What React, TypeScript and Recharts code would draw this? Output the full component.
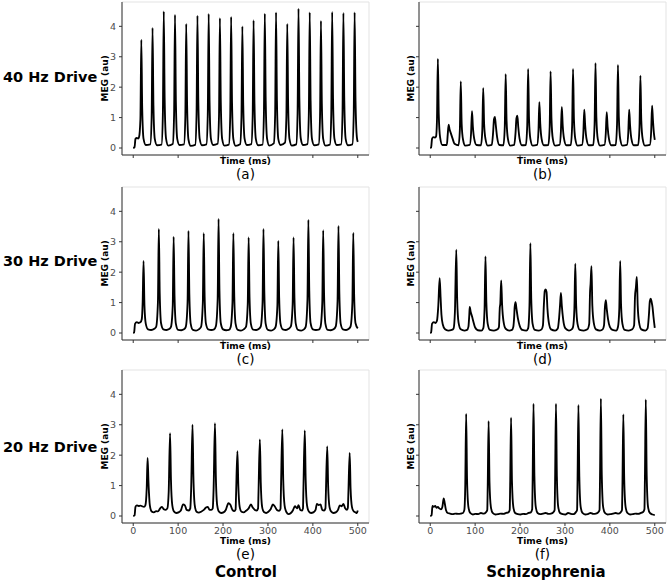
import React from 'react';
import { LineChart, Line, XAxis, YAxis, ReferenceArea } from 'recharts';

type Pt = [number, number];

const X_TICKS = [0, 100, 200, 300, 400, 500];
const Y_TICKS = [0, 1, 2, 3, 4];
const X_DOMAIN: [number, number] = [-25, 525];
const Y_DOMAIN: [number, number] = [-0.23, 4.8];

const ROW_LABELS = ['40 Hz Drive', '30 Hz Drive', '20 Hz Drive'];
const COL_LABELS = ['Control', 'Schizophrenia'];
const PANEL_TAGS = ['(a)', '(b)', '(c)', '(d)', '(e)', '(f)'];

// 40 Hz drive, control: time (ms), MEG (au)
const ctrl40: Pt[] = [
  [0, 0], [3, 0.03], [5, 0.3], [8, 0.33], [11, 0.31], [13, 0.36],
  [16, 0.95], [18, 3.56], [20, 1.3], [23, 0.3], [28, 0.1],
  [38, 0.12], [41, 1.0], [43, 3.95], [45, 1.4], [48, 0.3], [53, 0.09],
  [63, 0.11], [66, 1.1], [68, 4.49], [70, 1.6], [73, 0.32], [78, 0.08],
  [88, 0.13], [91, 1.1], [93, 4.38], [95, 1.5], [98, 0.3], [103, 0.1],
  [113, 0.12], [116, 1.0], [118, 4.08], [120, 1.4], [123, 0.28], [128, 0.07],
  [138, 0.1], [141, 1.1], [143, 4.35], [145, 1.5], [148, 0.3], [153, 0.09],
  [163, 0.12], [166, 1.1], [168, 4.41], [170, 1.5], [173, 0.31], [178, 0.1],
  [188, 0.14], [191, 1.05], [193, 4.27], [195, 1.5], [198, 0.3], [203, 0.08],
  [213, 0.11], [216, 1.05], [218, 4.31], [220, 1.5], [223, 0.29], [228, 0.07],
  [238, 0.12], [241, 1.0], [243, 4.0], [245, 1.4], [248, 0.3], [253, 0.1],
  [263, 0.13], [266, 1.05], [268, 4.2], [270, 1.45], [273, 0.3], [278, 0.09],
  [288, 0.11], [291, 1.1], [293, 4.42], [295, 1.55], [298, 0.31], [303, 0.08],
  [313, 0.15], [316, 1.1], [318, 4.46], [320, 1.55], [323, 0.3], [328, 0.1],
  [338, 0.18], [341, 1.0], [343, 4.08], [345, 1.4], [348, 0.29], [353, 0.08],
  [363, 0.12], [366, 1.15], [368, 4.58], [370, 1.6], [373, 0.32], [378, 0.1],
  [388, 0.13], [391, 1.1], [393, 4.46], [395, 1.55], [398, 0.3], [403, 0.09],
  [413, 0.12], [416, 1.05], [418, 4.18], [420, 1.45], [423, 0.3], [428, 0.08],
  [438, 0.11], [441, 1.1], [443, 4.47], [445, 1.55], [448, 0.31], [453, 0.1],
  [463, 0.12], [466, 1.1], [468, 4.44], [470, 1.55], [473, 0.3], [478, 0.09],
  [488, 0.12], [491, 1.1], [493, 4.46], [495, 1.55], [498, 0.35], [500, 0.2],
];

// 40 Hz drive, schizophrenia
const sz40: Pt[] = [
  [0, 0], [2, 0.02], [4, 0.3], [7, 0.36], [10, 0.34], [13, 0.38],
  [15, 0.9], [17, 2.93], [19, 1.1], [22, 0.35], [27, 0.1],
  [37, 0.1], [39, 0.45], [41, 0.77], [43, 0.62], [46, 0.48], [50, 0.3], [54, 0.14],
  [63, 0.09], [66, 0.6], [68, 2.19], [70, 0.8], [73, 0.28], [78, 0.08],
  [88, 0.1], [91, 0.5], [93, 1.21], [95, 0.7], [98, 0.3], [103, 0.1],
  [113, 0.09], [116, 0.6], [118, 1.97], [120, 0.8], [123, 0.3], [128, 0.08],
  [137, 0.1], [140, 0.5], [142, 0.95], [144, 1.02], [146, 0.75], [149, 0.35], [154, 0.1],
  [163, 0.09], [166, 0.7], [168, 2.43], [170, 0.9], [173, 0.3], [178, 0.08],
  [187, 0.1], [190, 0.5], [192, 0.98], [194, 1.06], [196, 0.7], [199, 0.3], [204, 0.09],
  [213, 0.1], [216, 0.75], [218, 2.6], [220, 0.95], [223, 0.3], [228, 0.08],
  [238, 0.1], [241, 0.55], [243, 1.51], [245, 0.8], [248, 0.3], [253, 0.09],
  [263, 0.1], [266, 0.7], [268, 2.52], [270, 0.95], [273, 0.3], [278, 0.08],
  [288, 0.1], [291, 0.55], [293, 1.35], [295, 0.75], [298, 0.3], [303, 0.09],
  [313, 0.1], [316, 0.75], [318, 2.6], [320, 0.95], [323, 0.3], [328, 0.08],
  [338, 0.1], [341, 0.5], [343, 1.26], [345, 0.75], [348, 0.3], [353, 0.09],
  [363, 0.1], [366, 0.8], [368, 2.79], [370, 1.0], [373, 0.3], [378, 0.08],
  [388, 0.1], [391, 0.5], [393, 1.18], [395, 0.7], [398, 0.3], [403, 0.09],
  [413, 0.1], [416, 0.8], [418, 2.73], [420, 1.0], [423, 0.3], [428, 0.08],
  [438, 0.1], [441, 0.5], [443, 1.26], [445, 0.75], [448, 0.3], [453, 0.09],
  [463, 0.1], [466, 0.7], [468, 2.38], [470, 0.9], [473, 0.3], [478, 0.08],
  [489, 0.1], [492, 0.55], [494, 1.39], [496, 0.9], [498, 0.5], [500, 0.27],
];

// 30 Hz drive, control
const ctrl30: Pt[] = [
  [0, 0], [2, 0.02], [4, 0.3], [8, 0.36], [12, 0.33], [16, 0.35],
  [19, 0.45], [21, 1.0], [23, 2.37], [25, 0.9], [28, 0.3], [33, 0.12], [40, 0.1], [47, 0.14], [51, 0.2],
  [55, 1.0], [57, 3.42], [59, 1.3], [62, 0.32], [67, 0.12], [74, 0.1], [80, 0.13], [84, 0.2],
  [88, 0.9], [90, 3.16], [92, 1.2], [95, 0.3], [100, 0.1], [107, 0.09], [113, 0.12], [117, 0.2],
  [121, 1.0], [123, 3.36], [125, 1.25], [128, 0.3], [133, 0.1], [140, 0.08], [146, 0.12], [151, 0.2],
  [155, 1.0], [157, 3.28], [159, 1.2], [162, 0.3], [167, 0.12], [174, 0.1], [180, 0.12], [184, 0.22],
  [188, 1.1], [190, 3.75], [192, 1.4], [195, 0.32], [200, 0.12], [207, 0.09], [213, 0.1], [217, 0.2],
  [221, 1.0], [223, 3.28], [225, 1.2], [228, 0.3], [233, 0.1], [240, 0.08], [246, 0.12], [251, 0.2],
  [255, 0.95], [257, 3.14], [259, 1.15], [262, 0.3], [267, 0.11], [274, 0.1], [280, 0.14], [284, 0.22],
  [288, 1.0], [290, 3.42], [292, 1.3], [295, 0.3], [300, 0.1], [307, 0.08], [313, 0.12], [317, 0.2],
  [321, 0.9], [323, 3.03], [325, 1.15], [328, 0.3], [333, 0.12], [340, 0.1], [346, 0.14], [351, 0.22],
  [355, 0.95], [357, 3.14], [359, 1.15], [362, 0.3], [367, 0.1], [374, 0.08], [380, 0.12], [384, 0.2],
  [388, 1.1], [390, 3.72], [392, 1.4], [395, 0.32], [400, 0.12], [407, 0.1], [413, 0.11], [417, 0.2],
  [421, 1.0], [423, 3.38], [425, 1.25], [428, 0.3], [433, 0.1], [440, 0.09], [446, 0.12], [451, 0.22],
  [455, 1.05], [457, 3.52], [459, 1.3], [462, 0.3], [467, 0.12], [474, 0.1], [480, 0.14], [484, 0.22],
  [488, 1.0], [490, 3.29], [492, 1.2], [495, 0.32], [500, 0.15],
];

// 30 Hz drive, schizophrenia
const sz30: Pt[] = [
  [0, 0], [2, 0.02], [4, 0.3], [8, 0.36], [12, 0.33], [15, 0.4],
  [18, 0.9], [21, 1.8], [23, 1.2], [25, 0.6], [28, 0.28], [33, 0.12], [40, 0.08], [48, 0.1], [52, 0.15],
  [55, 0.7], [58, 2.74], [60, 1.1], [63, 0.35], [68, 0.12], [76, 0.08], [82, 0.1], [85, 0.2],
  [87, 0.6], [88, 0.86], [90, 0.7], [93, 0.55], [96, 0.38], [100, 0.18], [106, 0.09], [114, 0.08], [118, 0.15],
  [121, 0.8], [123, 2.52], [125, 1.0], [128, 0.3], [133, 0.1], [142, 0.08], [150, 0.12], [153, 0.2],
  [155, 0.85], [156, 0.95], [158, 1.73], [160, 0.95], [163, 0.4], [168, 0.14], [176, 0.08], [182, 0.1], [185, 0.2],
  [187, 0.55], [188, 0.85], [190, 1.01], [192, 0.8], [195, 0.5], [199, 0.25], [205, 0.1], [214, 0.08], [218, 0.15],
  [221, 0.9], [223, 2.95], [225, 1.1], [228, 0.3], [233, 0.1], [242, 0.08], [248, 0.12], [251, 0.25],
  [253, 0.9], [255, 1.38], [257, 1.43], [259, 1.35], [261, 0.8], [264, 0.35], [269, 0.12], [278, 0.08], [284, 0.15],
  [287, 0.5], [289, 0.9], [291, 1.32], [293, 0.9], [296, 0.45], [301, 0.15], [309, 0.08], [315, 0.12], [318, 0.2],
  [321, 0.8], [323, 2.28], [325, 0.9], [328, 0.3], [333, 0.1], [342, 0.08], [350, 0.12],
  [354, 0.3], [356, 1.4], [357, 1.6], [359, 2.2], [361, 0.9], [364, 0.35], [369, 0.12], [378, 0.08], [384, 0.12], [387, 0.25],
  [389, 0.85], [391, 1.08], [393, 0.8], [396, 0.45], [400, 0.2], [406, 0.1], [414, 0.08], [418, 0.2],
  [421, 0.8], [423, 2.37], [425, 0.9], [428, 0.3], [433, 0.1], [442, 0.08], [450, 0.12], [454, 0.25],
  [456, 1.2], [458, 1.5], [460, 1.84], [462, 0.9], [465, 0.35], [470, 0.12], [479, 0.08], [484, 0.15],
  [487, 0.6], [489, 1.05], [491, 1.13], [493, 1.02], [495, 0.85], [497, 0.55], [500, 0.17],
];

// 20 Hz drive, control
const ctrl20: Pt[] = [
  [0, 0], [3, 0.02], [5, 0.3], [8, 0.35], [12, 0.33], [16, 0.34], [20, 0.32], [24, 0.3], [27, 0.35],
  [30, 0.9], [32, 1.91], [34, 1.1], [37, 0.35], [41, 0.15], [46, 0.12], [51, 0.16], [55, 0.15], [60, 0.25], [64, 0.3], [68, 0.22], [72, 0.2], [76, 0.25],
  [79, 0.8], [82, 2.72], [84, 1.2], [87, 0.35], [91, 0.14], [96, 0.1], [101, 0.12], [106, 0.18], [111, 0.38], [115, 0.35], [119, 0.2], [124, 0.18], [127, 0.25],
  [129, 0.9], [132, 3.0], [134, 1.3], [137, 0.35], [141, 0.14], [146, 0.11], [152, 0.15], [157, 0.2], [162, 0.28], [166, 0.3], [170, 0.2], [174, 0.2], [177, 0.25],
  [179, 0.9], [182, 3.05], [184, 1.3], [187, 0.35], [191, 0.14], [196, 0.1], [201, 0.12], [206, 0.2], [212, 0.42], [216, 0.38], [221, 0.2], [225, 0.16], [228, 0.22],
  [229, 0.7], [232, 2.13], [234, 1.0], [237, 0.3], [241, 0.14], [246, 0.12], [251, 0.17], [257, 0.25], [262, 0.38], [266, 0.28], [271, 0.2], [275, 0.18], [278, 0.25],
  [279, 0.8], [282, 2.52], [284, 1.1], [287, 0.3], [291, 0.13], [296, 0.1], [301, 0.14], [306, 0.22], [311, 0.38], [315, 0.32], [320, 0.2], [325, 0.17], [328, 0.24],
  [329, 0.9], [332, 2.85], [334, 1.2], [337, 0.35], [341, 0.13], [346, 0.06], [351, 0.1], [356, 0.2], [360, 0.32], [365, 0.25], [368, 0.36], [372, 0.2], [376, 0.18], [378, 0.25],
  [379, 0.9], [382, 2.81], [384, 1.2], [387, 0.35], [391, 0.15], [396, 0.1], [401, 0.12], [406, 0.2], [409, 0.4], [413, 0.36], [417, 0.38], [421, 0.2], [425, 0.18], [428, 0.25],
  [429, 0.75], [432, 2.29], [434, 1.0], [437, 0.3], [441, 0.14], [446, 0.1], [451, 0.12], [456, 0.2], [460, 0.35], [464, 0.32], [468, 0.4], [472, 0.25], [476, 0.2], [478, 0.28],
  [479, 0.7], [482, 2.07], [484, 0.9], [487, 0.3], [491, 0.15], [495, 0.12], [498, 0.1], [500, 0.18],
];

// 20 Hz drive, schizophrenia
const sz20: Pt[] = [
  [0, 0], [3, 0.02], [5, 0.33], [8, 0.3], [11, 0.33], [14, 0.27], [17, 0.3], [20, 0.25], [24, 0.22], [27, 0.3],
  [30, 0.58], [32, 0.45], [35, 0.2], [39, 0.1], [44, 0.08], [50, 0.06], [56, 0.08], [62, 0.07], [68, 0.08], [73, 0.1], [76, 0.2],
  [78, 1.0], [80, 3.36], [82, 1.2], [85, 0.3], [89, 0.1], [95, 0.05], [101, 0.07], [107, 0.06], [113, 0.1], [119, 0.08], [124, 0.12], [127, 0.2],
  [128, 0.95], [130, 3.12], [132, 1.1], [135, 0.3], [139, 0.1], [145, 0.05], [151, 0.06], [157, 0.08], [163, 0.07], [169, 0.1], [174, 0.12], [177, 0.2],
  [178, 1.0], [180, 3.23], [182, 1.15], [185, 0.3], [189, 0.1], [195, 0.06], [201, 0.05], [207, 0.07], [213, 0.06], [219, 0.1], [224, 0.12], [227, 0.22],
  [228, 1.1], [230, 3.69], [232, 1.3], [235, 0.3], [239, 0.1], [245, 0.06], [251, 0.08], [257, 0.1], [263, 0.07], [269, 0.08], [274, 0.12], [277, 0.2],
  [278, 1.1], [280, 3.69], [282, 1.3], [285, 0.3], [289, 0.1], [295, 0.06], [301, 0.05], [307, 0.1], [313, 0.07], [319, 0.06], [324, 0.12], [327, 0.2],
  [328, 1.1], [330, 3.65], [332, 1.3], [335, 0.3], [339, 0.1], [345, 0.05], [351, 0.06], [357, 0.1], [363, 0.07], [369, 0.08], [374, 0.12], [377, 0.2],
  [378, 1.15], [380, 3.86], [382, 1.35], [385, 0.3], [389, 0.1], [395, 0.05], [401, 0.06], [407, 0.08], [413, 0.1], [419, 0.08], [424, 0.12], [427, 0.2],
  [428, 1.0], [430, 3.34], [432, 1.2], [435, 0.3], [439, 0.1], [445, 0.05], [451, 0.06], [457, 0.08], [463, 0.07], [469, 0.1], [474, 0.13], [477, 0.22],
  [478, 1.15], [480, 3.83], [482, 1.35], [485, 0.3], [489, 0.1], [495, 0.05], [500, 0.03],
];

const PANELS: Pt[][] = [ctrl40, sz40, ctrl30, sz30, ctrl20, sz20];

const FONT = '"DejaVu Sans", Verdana, sans-serif';
const COL_X = [92, 389]; // chart left edges
const ROW_Y = [0, 185, 368]; // chart top edges
const CHART_W = 285;
const CHART_H = 177;
const AXIS_W = 30;

function Txt({ x, y, size, bold, rotate, children }: any) {
  return (
    <div
      style={{
        position: 'absolute', left: x - 100, top: y - size * 0.6, width: 200,
        textAlign: 'center', fontSize: size, lineHeight: `${size * 1.2}px`,
        fontWeight: bold ? 'bold' : 'normal', fontFamily: FONT, color: '#000',
        whiteSpace: 'nowrap', transform: rotate ? 'rotate(-90deg)' : undefined,
      }}
    >
      {children}
    </div>
  );
}

function Panel({ idx }: { idx: number }) {
  const row = Math.floor(idx / 2);
  const col = idx % 2;
  const data = PANELS[idx].map(([t, v]) => ({ t, v }));
  const left = COL_X[col];
  const top = ROW_Y[row];
  const showX = row === 2;
  const showY = col === 0;
  const plotL = left + AXIS_W;
  const plotR = left + CHART_W - 8;
  const cx = (plotL + plotR) / 2;
  const plotT = top + 2;
  const plotB = top + 155;
  const tick = { fontSize: 9.5, fill: '#4d4d4d', fontFamily: FONT };

  return (
    <>
      <div style={{ position: 'absolute', left, top }}>
        <LineChart width={CHART_W} height={CHART_H} data={data} margin={{ top: 2, right: 8, bottom: 0, left: 0 }}>
          <ReferenceArea x1={X_DOMAIN[0]} x2={X_DOMAIN[1]} y1={Y_DOMAIN[0]} y2={Y_DOMAIN[1]} fill="none" stroke="#e3e3e3" />
          <XAxis
            dataKey="t" type="number" domain={X_DOMAIN} ticks={X_TICKS} interval={0} allowDataOverflow
            height={22} tickSize={3} tickMargin={1} stroke="#333" tick={tick}
            tickFormatter={(v: number) => (showX ? String(v) : '')}
          />
          <YAxis
            type="number" domain={Y_DOMAIN} ticks={Y_TICKS} interval={0} allowDataOverflow
            width={AXIS_W} tickSize={3} tickMargin={3} stroke="#333" tick={tick}
            tickFormatter={(v: number) => (showY ? String(v) : '')}
          />
          <Line dataKey="v" type="monotone" stroke="#000" strokeWidth={1.85} dot={false} isAnimationActive={false} />
        </LineChart>
      </div>
      <Txt x={showY ? 104.5 : plotL - 8} y={(plotT + plotB) / 2} size={9} bold rotate>MEG (au)</Txt>
      <Txt x={cx} y={plotB + (showX ? 18 : 6)} size={9} bold>Time (ms)</Txt>
      <Txt x={cx} y={plotB + (showX ? 31 : 19)} size={13.5}>{PANEL_TAGS[idx]}</Txt>
    </>
  );
}

export default function App() {
  return (
    <div style={{ position: 'absolute', left: 0, top: 0, width: 669, height: 580, background: '#fff', overflow: 'hidden' }}>
      {PANELS.map((_, i) => <Panel key={i} idx={i} />)}
      {ROW_LABELS.map((s, i) => (
        <div key={s} style={{ position: 'absolute', left: 3, top: [77, 261, 447][i] - 9, fontSize: 14.5, lineHeight: '18px', fontWeight: 'bold', fontFamily: FONT, whiteSpace: 'nowrap' }}>
          {s}
        </div>
      ))}
      {COL_LABELS.map((s, i) => (
        <Txt key={s} x={[246, 546][i]} y={572} size={15} bold>{s}</Txt>
      ))}
    </div>
  );
}
